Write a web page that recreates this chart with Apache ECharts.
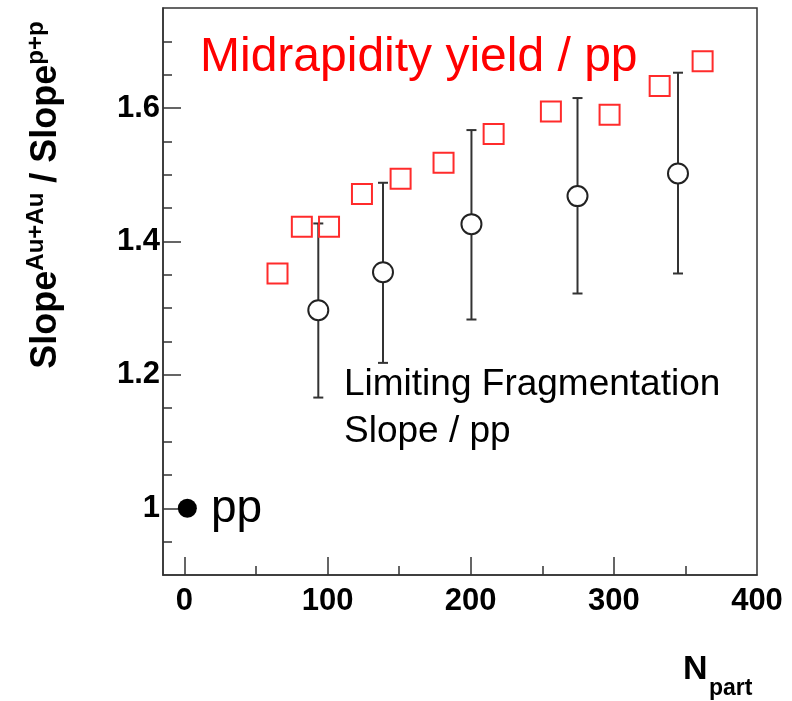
<!DOCTYPE html>
<html><head><meta charset="utf-8">
<script src="https://cdn.jsdelivr.net/npm/echarts@6/dist/echarts.min.js"></script>
<style>html,body{margin:0;padding:0;background:#fff}#c{width:792px;height:701px}</style>
</head><body><div id="c"></div>
<script>
// Midrapidity yield / pp (open red squares)
const midX = [65, 82, 101, 124, 151, 181, 216, 256, 297, 332, 362];
const midY = [1.352, 1.422, 1.422, 1.471, 1.494, 1.518, 1.561, 1.595, 1.590, 1.633, 1.670];
// Limiting fragmentation slope / pp (open circles with error bars)
const lfX = [93.5, 138.7, 200.5, 274.6, 344.8];
const lfY = [1.297, 1.354, 1.426, 1.468, 1.502];
const lfLow = [1.166, 1.218, 1.283, 1.322, 1.352];
const lfHigh = [1.427, 1.488, 1.567, 1.615, 1.653];
// pp reference point
const ppX = [2];
const ppY = [1.0];
// ticks
const xMajorTicks = [0, 100, 200, 300];
const xMinorTicks = [50, 150, 250, 350];
const xLabels = [0, 100, 200, 300, 400];
const yMajorTicks = [1.0, 1.2, 1.4, 1.6];
const yMinorTicks = [0.95, 1.05, 1.1, 1.15, 1.25, 1.3, 1.35, 1.45, 1.5, 1.55, 1.65, 1.7];

const FONT = '"Liberation Sans", Arial, Helvetica, sans-serif';
const AX = '#333';
const chart = echarts.init(document.getElementById('c'), null, {renderer: 'canvas'});

const xBase = {type: 'value', min: -15, max: 400, position: 'bottom', splitLine: {show: false}};
const yBase = {type: 'value', min: 0.9, max: 1.75, position: 'left', splitLine: {show: false}};

const option = {
  animation: false,
  backgroundColor: '#fff',
  grid: {left: 163, top: 8, width: 594, height: 567, show: true, borderColor: AX, borderWidth: 1.5},
  xAxis: [
    Object.assign({}, xBase, {
      axisLine: {show: true, onZero: false, lineStyle: {color: AX, width: 1.5}},
      axisTick: {show: true, inside: true, length: 18, customValues: xMajorTicks, lineStyle: {color: AX, width: 1.5}},
      axisLabel: {show: true, customValues: xLabels, fontFamily: FONT, fontWeight: 'bold', fontSize: 31, color: '#000', margin: 11}
    }),
    Object.assign({}, xBase, {
      axisLine: {show: false, onZero: false},
      axisTick: {show: true, inside: true, length: 9, customValues: xMinorTicks, lineStyle: {color: AX, width: 1.5}},
      axisLabel: {show: false}
    })
  ],
  yAxis: [
    Object.assign({}, yBase, {
      axisLine: {show: true, onZero: false, lineStyle: {color: AX, width: 1.5}},
      axisTick: {show: true, inside: true, length: 18, customValues: yMajorTicks, lineStyle: {color: AX, width: 1.5}},
      axisLabel: {show: true, customValues: yMajorTicks, fontFamily: FONT, fontWeight: 'bold', fontSize: 31, color: '#000', margin: 3,
        formatter: v => (Math.abs(v - 1) < 1e-9 ? '1' : v.toFixed(1))}
    }),
    Object.assign({}, yBase, {
      axisLine: {show: false, onZero: false},
      axisTick: {show: true, inside: true, length: 9, customValues: yMinorTicks, lineStyle: {color: AX, width: 1.5}},
      axisLabel: {show: false}
    })
  ],
  series: [
    {
      type: 'custom',
      xAxisIndex: 0, yAxisIndex: 0,
      data: lfX.map((x, i) => [x, lfLow[i], lfHigh[i]]),
      z: 2,
      renderItem: function (params, api) {
        const lo = api.coord([api.value(0), api.value(1)]);
        const hi = api.coord([api.value(0), api.value(2)]);
        const cw = 5;
        const st = {stroke: '#333', lineWidth: 2};
        return {
          type: 'group',
          children: [
            {type: 'line', shape: {x1: lo[0], y1: lo[1], x2: hi[0], y2: hi[1]}, style: st},
            {type: 'line', shape: {x1: lo[0] - cw, y1: lo[1], x2: lo[0] + cw, y2: lo[1]}, style: st},
            {type: 'line', shape: {x1: hi[0] - cw, y1: hi[1], x2: hi[0] + cw, y2: hi[1]}, style: st}
          ]
        };
      }
    },
    {
      type: 'scatter', z: 3,
      data: lfX.map((x, i) => [x, lfY[i]]),
      symbol: 'circle', symbolSize: 20,
      itemStyle: {color: '#fff', borderColor: '#222', borderWidth: 2, opacity: 1}
    },
    {
      type: 'scatter', z: 4,
      data: midX.map((x, i) => [x, midY[i]]),
      symbol: 'rect', symbolSize: 20,
      itemStyle: {color: 'rgba(255,255,255,0)', borderColor: '#ff2b2b', borderWidth: 2, opacity: 1}
    },
    {
      type: 'scatter', z: 5,
      data: ppX.map((x, i) => [x, ppY[i]]),
      symbol: 'circle', symbolSize: 19,
      itemStyle: {color: '#000', opacity: 1}
    }
  ],
  graphic: [
    {type: 'text', z: 10, style: {x: 200, y: 58, text: 'Midrapidity yield / pp', font: '48px ' + FONT, fill: '#ff0000', textAlign: 'left', textVerticalAlign: 'middle'}},
    {type: 'text', z: 10, style: {x: 344, y: 385, text: 'Limiting Fragmentation', font: '37px ' + FONT, fill: '#000', textAlign: 'left', textVerticalAlign: 'middle'}},
    {type: 'text', z: 10, style: {x: 344, y: 432, text: 'Slope / pp', font: '37px ' + FONT, fill: '#000', textAlign: 'left', textVerticalAlign: 'middle'}},
    {type: 'text', z: 10, style: {x: 211, y: 509, text: 'pp', font: '46px ' + FONT, fill: '#000', textAlign: 'left', textVerticalAlign: 'middle'}},
    {type: 'text', z: 10, style: {x: 683, y: 670, text: 'N', font: 'bold 34px ' + FONT, fill: '#000', textAlign: 'left', textVerticalAlign: 'middle'}},
    {type: 'text', z: 10, style: {x: 709, y: 689, text: 'part', font: 'bold 23px ' + FONT, fill: '#000', textAlign: 'left', textVerticalAlign: 'middle'}},
    {type: 'text', z: 10, x: 46, y: 195, rotation: Math.PI / 2,
      style: {
        text: '{m|Slope}{s|Au+Au}{m| / Slope}{s|p+p}',
        textAlign: 'center', textVerticalAlign: 'middle', fill: '#000',
        rich: {
          m: {fontFamily: FONT, fontWeight: 'bold', fontSize: 36, lineHeight: 38},
          s: {fontFamily: FONT, fontWeight: 'bold', fontSize: 24, lineHeight: 24, padding: [0, 0, 19, 0]}
        }
      }}
  ]
};
chart.setOption(option);
</script>
</body></html>
